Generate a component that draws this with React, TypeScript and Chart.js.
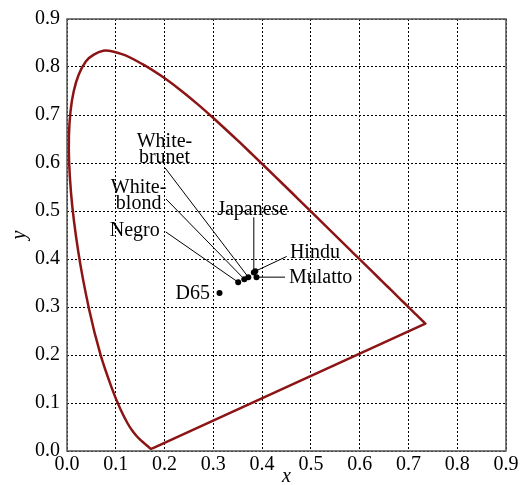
import React, { useEffect, useRef } from "react";
import { Chart, registerables } from "chart.js";

Chart.register(...registerables);

// CIE 1931 spectral locus (380–700 nm, 5 nm steps)
const locusX = [
  0.1741, 0.1740, 0.1738, 0.1736, 0.1733, 0.1730, 0.1726, 0.1721, 0.1714, 0.1703,
  0.1689, 0.1669, 0.1644, 0.1611, 0.1566, 0.1510, 0.1440, 0.1355, 0.1241, 0.1096,
  0.0913, 0.0687, 0.0454, 0.0235, 0.0082, 0.0039, 0.0139, 0.0389, 0.0743, 0.1142,
  0.1547, 0.1929, 0.2296, 0.2658, 0.3016, 0.3373, 0.3731, 0.4087, 0.4441, 0.4788,
  0.5125, 0.5448, 0.5752, 0.6029, 0.6270, 0.6482, 0.6658, 0.6801, 0.6915, 0.7006,
  0.7079, 0.7140, 0.7190, 0.7230, 0.7260, 0.7283, 0.7300, 0.7311, 0.7320, 0.7327,
  0.7334, 0.7340, 0.7344, 0.7346, 0.7347,
];
const locusY = [
  0.0050, 0.0050, 0.0049, 0.0049, 0.0048, 0.0048, 0.0048, 0.0048, 0.0051, 0.0058,
  0.0069, 0.0086, 0.0109, 0.0138, 0.0177, 0.0227, 0.0297, 0.0399, 0.0578, 0.0868,
  0.1327, 0.2007, 0.2950, 0.4127, 0.5384, 0.6548, 0.7502, 0.8120, 0.8338, 0.8262,
  0.8059, 0.7816, 0.7543, 0.7243, 0.6923, 0.6589, 0.6245, 0.5896, 0.5547, 0.5202,
  0.4866, 0.4544, 0.4242, 0.3965, 0.3725, 0.3514, 0.3340, 0.3197, 0.3083, 0.2993,
  0.2920, 0.2859, 0.2809, 0.2770, 0.2740, 0.2717, 0.2700, 0.2689, 0.2680, 0.2673,
  0.2666, 0.2660, 0.2656, 0.2654, 0.2653,
];

// Skin-colour chromaticities
const pointNames = ["D65", "Negro", "White-blond", "White-brunet", "Japanese", "Hindu", "Mulatto"];
const pointX = [0.3127, 0.351, 0.3635, 0.3717, 0.383, 0.386, 0.3885];
const pointY = [0.329, 0.3516, 0.358, 0.3622, 0.372, 0.3745, 0.3622];

// Label anchors (data coords): text lines, anchor x/y of first baseline, alignment, leader start
const labelLines = [["D65"], ["Negro"], ["White-", "blond"], ["White-", "brunet"], ["Japanese"], ["Hindu"], ["Mulatto"]];
const labelAX = [0.2932, 0.1388, 0.1468, 0.1999, 0.3807, 0.457, 0.455];
const labelAY = [0.3163, 0.4475, 0.5385, 0.634, 0.492, 0.4018, 0.349];
const labelAlign = ["right", "center", "center", "center", "center", "left", "left"];
const leaderX = [null, 0.2023, 0.203, 0.2009, 0.383, 0.4504, 0.447];
const leaderY = [null, 0.4565, 0.525, 0.590, 0.487, 0.4053, 0.3622];

const tickValues = [0, 0.1, 0.2, 0.3, 0.4, 0.5, 0.6, 0.7, 0.8, 0.9];

const SERIF = '"Liberation Serif", "Times New Roman", serif';

export default function App() {
  const ref = useRef<HTMLCanvasElement>(null);

  useEffect(() => {
    const canvas = ref.current;
    if (!canvas) return;

    const locusData = locusX.map((x, i) => ({ x, y: locusY[i] }));
    locusData.push({ x: locusX[0], y: locusY[0] });
    const pts = pointX.map((x, i) => ({ x, y: pointY[i] }));

    const annotPlugin = {
      id: "annot",
      afterDraw(chart: any) {
        const { ctx, chartArea } = chart;
        const xs = chart.scales.x;
        const ys = chart.scales.y;
        ctx.save();
        // frame
        ctx.strokeStyle = "#555";
        ctx.lineWidth = 1.5;
        ctx.strokeRect(chartArea.left, chartArea.top, chartArea.right - chartArea.left, chartArea.bottom - chartArea.top);
        // leaders
        ctx.strokeStyle = "#000";
        ctx.lineWidth = 1;
        for (let i = 0; i < pointNames.length; i++) {
          const lx = leaderX[i];
          const ly = leaderY[i];
          if (lx == null || ly == null) continue;
          ctx.beginPath();
          ctx.moveTo(xs.getPixelForValue(lx), ys.getPixelForValue(ly));
          ctx.lineTo(xs.getPixelForValue(pointX[i]), ys.getPixelForValue(pointY[i]));
          ctx.stroke();
        }
        // labels
        ctx.fillStyle = "#000";
        ctx.font = `20px ${SERIF}`;
        ctx.textBaseline = "alphabetic";
        for (let i = 0; i < pointNames.length; i++) {
          ctx.textAlign = labelAlign[i] as CanvasTextAlign;
          const x = xs.getPixelForValue(labelAX[i]);
          const y = ys.getPixelForValue(labelAY[i]);
          labelLines[i].forEach((t, k) => ctx.fillText(t, x, y + k * 16.5));
        }
        ctx.restore();
      },
    };

    const chart = new Chart(canvas, {
      type: "scatter",
      data: {
        datasets: [
          {
            data: locusData,
            showLine: true,
            borderColor: "#8c1414",
            borderWidth: 2.5,
            pointRadius: 0,
            tension: 0.3,
            fill: false,
          },
          {
            data: pts,
            pointRadius: 3,
            pointBackgroundColor: "#000",
            pointBorderColor: "#000",
            pointBorderWidth: 0,
            showLine: false,
          },
        ],
      },
      options: {
        animation: false,
        responsive: true,
        maintainAspectRatio: false,
        plugins: { legend: { display: false }, tooltip: { enabled: false } },
        layout: { padding: { top: 12, right: 16, left: 0, bottom: 0 } },
        scales: {
          x: {
            type: "linear",
            min: 0,
            max: 0.9,
            afterFit: (s: any) => { s.height = 34; },
            afterBuildTicks: (s: any) => { s.ticks = tickValues.map((v) => ({ value: v })); },
            ticks: {
              padding: 2,
              color: "#000",
              font: { family: SERIF, size: 20, lineHeight: 1.2 },
              callback: (v: any) => Number(v).toFixed(1),
              maxRotation: 0,
              autoSkip: false,
            },
            grid: { color: "#000", lineWidth: 1, drawTicks: false },
            border: { display: false, dash: [2, 2] } as any,
            title: {
              display: true,
              text: "x",
              color: "#000",
              font: { family: SERIF, size: 20, style: "italic", lineHeight: 0.8 },
              padding: { top: 0, bottom: 0 },
            },
          },
          y: {
            type: "linear",
            min: 0,
            max: 0.9,
            afterFit: (s: any) => { s.width = 67; },
            afterBuildTicks: (s: any) => { s.ticks = tickValues.map((v) => ({ value: v })); },
            ticks: {
              padding: 7,
              color: "#000",
              font: { family: SERIF, size: 20, lineHeight: 1.2 },
              callback: (v: any) => Number(v).toFixed(1),
              autoSkip: false,
            },
            grid: { color: "#000", lineWidth: 1, drawTicks: false },
            border: { display: false, dash: [2, 2] } as any,
            title: {
              display: true,
              text: "y",
              color: "#000",
              font: { family: SERIF, size: 20, style: "italic", lineHeight: 1 },
              padding: { top: 10, bottom: 0 },
            },
          },
        },
      },
      plugins: [annotPlugin],
    });

    return () => chart.destroy();
  }, []);

  return (
    <div style={{ position: "absolute", left: 0, top: 0, width: 522, height: 485 }}>
      <canvas ref={ref} />
    </div>
  );
}
